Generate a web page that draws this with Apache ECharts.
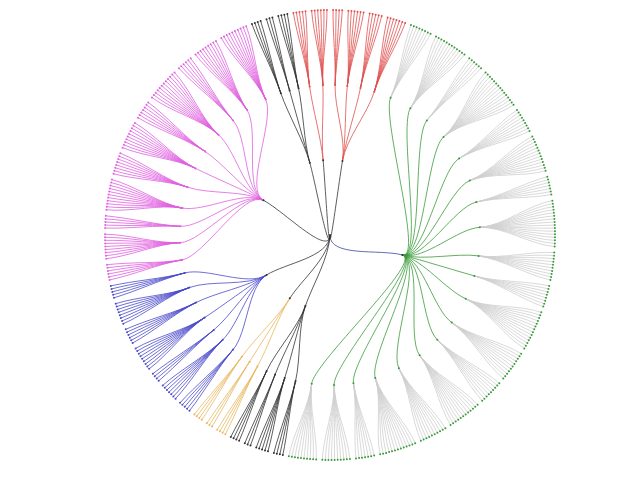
<!DOCTYPE html>
<html><head><meta charset="utf-8">
<script src="https://cdn.jsdelivr.net/npm/echarts@6/dist/echarts.min.js"></script>
<style>html,body{margin:0;background:#fff}#c{width:639px;height:485px}</style>
</head><body><div id="c"></div>
<script>
// clades in clockwise order starting at 12 o'clock; each list = sizes of subclades (leaf counts)
const cladeNames = ['redB','green','blackA','orange','blue','pink','blackB','redA'];
const redB = [4,6,5,7];
const green = [8,12,6,15,9,13,7,16,10,8,14,11,9,12,10,13,7,10,10];
const blackA = [4,5,3,4];
const orange = [4,3,4];
const blue = [5,7,4,9,6,8,5];
const pink = [6,9,5,11,8,10,7,12,6,9,10];
const blackB = [4,3,4];
const redA = [5,6];
const cladeSizes = [redB,green,blackA,orange,blue,pink,blackB,redA];
const palette = {redB:'#e05050',green:'#3a9a3a',blackA:'#333',orange:'#e8b860',blue:'#4a4acc',pink:'#e060e0',blackB:'#333',redA:'#e05050'};
const leafLine = {green:'#cfcfcf'};

function build(){
  const root = {name:'root', children:[]};
  cladeNames.forEach((cn,ci)=>{
    const col = palette[cn];
    const clade = {name:cn, lineStyle:{color:cn==='green'?'#3a4aa0':'#333'}, itemStyle:{color:'#333'}, children:[]};
    cladeSizes[ci].forEach((n,si)=>{
      const sub = {name:cn+'_'+si, lineStyle:{color:col}, itemStyle:{color:col}, children:[]};
      for(let k=0;k<n;k++){
        sub.children.push({name:cn+'_'+si+'_'+k, lineStyle:{color:leafLine[cn]||col}, itemStyle:{color:col,borderColor:col}});
      }
      clade.children.push(sub);
    });
    root.children.push(clade);
  });
  return root;
}
const chart = echarts.init(document.getElementById('c'));
chart.setOption({
  animation:false,
  series:[{
    type:'tree', layout:'radial', data:[build()],
    left:105, right:84, top:10, bottom:25,
    symbol:'circle', symbolSize:2,
    expandAndCollapse:false, initialTreeDepth:-1,
    label:{show:false}, leaves:{label:{show:false}},
    lineStyle:{width:0.8, curveness:0.3},
    itemStyle:{color:'#333', borderWidth:0},
    emphasis:{disabled:true}
  }]
});
</script></body></html>
